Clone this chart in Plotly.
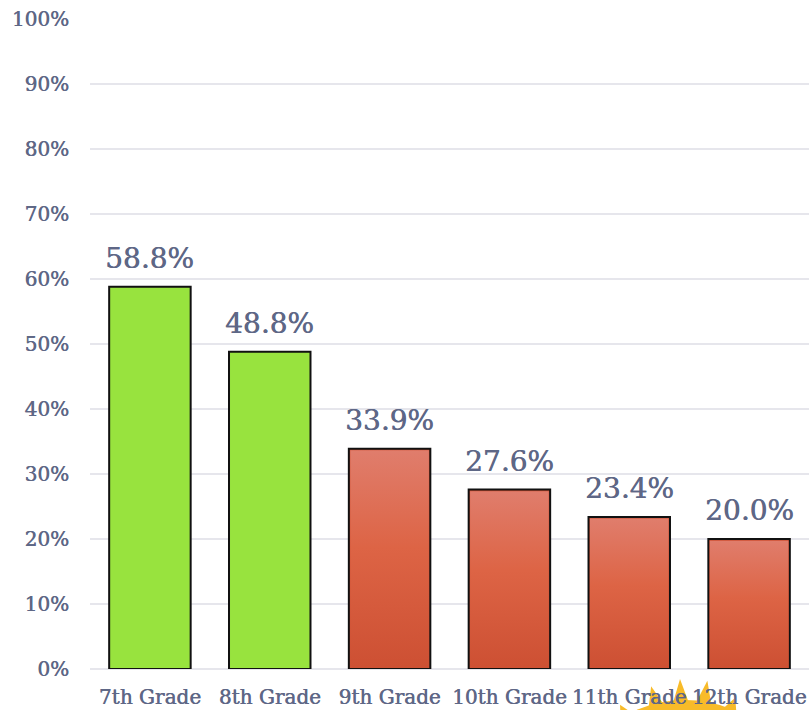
import math
import plotly.graph_objects as go

# Share of students by grade
grades = ["7th Grade", "8th Grade", "9th Grade", "10th Grade", "11th Grade", "12th Grade"]
shares = [58.8, 48.8, 33.9, 27.6, 23.4, 20.0]
middle_school = [True, True, False, False, False, False]

y_ticks = list(range(0, 101, 10))
y_tick_text = [f"{v}%" for v in y_ticks]

GREEN = "#98E33E"
RED_TOP = "#E07D6C"
RED_BOTTOM = "#CD5033"
TEXT = "#5E6786"
SUN = "#F8BB29"
FONT = "DejaVu Serif"
SHADOW = "0.5px 0px 0px #5E6786"
BAR_WIDTH = 0.68

W, H = 809, 710
M_L, M_R, M_T, M_B = 90, 0, 19, 41
PLOT_W, PLOT_H = W - M_L - M_R, H - M_T - M_B

fig = go.Figure()

# Base bars with outline (green for middle school, red for high school)
fig.add_trace(go.Bar(
    x=list(range(len(grades))),
    y=shares,
    width=BAR_WIDTH,
    marker=dict(
        color=[GREEN if m else RED_BOTTOM for m in middle_school],
        line=dict(color="#111111", width=2),
    ),
    hoverinfo="skip",
    showlegend=False,
))

# Vertical gradient overlay for the high school bars
inset = 0.012
for i, (v, m) in enumerate(zip(shares, middle_school)):
    if m:
        continue
    x0, x1 = i - BAR_WIDTH / 2 + inset, i + BAR_WIDTH / 2 - inset
    y0, y1 = 0.25, v - 0.25
    fig.add_trace(go.Scatter(
        x=[x0, x1, x1, x0, x0],
        y=[y0, y0, y1, y1, y0],
        mode="lines",
        line=dict(width=0),
        fill="toself",
        fillgradient=dict(type="vertical",
                          colorscale=[[0, RED_BOTTOM], [0.55, "#DD6445"], [1, RED_TOP]]),
        hoverinfo="skip",
        showlegend=False,
    ))

# Value labels above each bar
for i, v in enumerate(shares):
    fig.add_annotation(
        x=i, y=v, text=f"{v:.1f}%", showarrow=False,
        yanchor="bottom", yshift=10,
        font=dict(family=FONT, size=28, color=TEXT, shadow=SHADOW),
    )


# Decorative sun peeking up behind the category labels (pixel layout -> paper coords)
def px(x):
    return (x - M_L) / PLOT_W


def py(y):
    return (H - M_B - y) / PLOT_H


sun_x, sun_y, sun_r = 685, 822, 122
fig.add_shape(type="circle", xref="paper", yref="paper",
              x0=px(sun_x - sun_r), x1=px(sun_x + sun_r),
              y0=py(sun_y + sun_r), y1=py(sun_y - sun_r),
              fillcolor=SUN, line=dict(width=0), layer="below")
for ang_deg, tip_r in [(-29, 134), (-14, 140), (-2, 143), (9, 143), (22, 134)]:
    a = math.radians(ang_deg)
    ux, uy = math.sin(a), -math.cos(a)
    nx, ny = -uy, ux
    base_r, half = sun_r - 6, 9
    tip = (sun_x + ux * tip_r, sun_y + uy * tip_r)
    b1 = (sun_x + ux * base_r + nx * half, sun_y + uy * base_r + ny * half)
    b2 = (sun_x + ux * base_r - nx * half, sun_y + uy * base_r - ny * half)
    path = (f"M {px(b1[0])} {py(b1[1])} L {px(tip[0])} {py(tip[1])} "
            f"L {px(b2[0])} {py(b2[1])} Z")
    fig.add_shape(type="path", xref="paper", yref="paper", path=path,
                  fillcolor=SUN, line=dict(width=0), layer="below")

fig.update_layout(
    width=W, height=H,
    margin=dict(l=M_L, r=M_R, t=M_T, b=M_B),
    paper_bgcolor="white",
    plot_bgcolor="white",
    bargap=1 - BAR_WIDTH,
    font=dict(family=FONT, color=TEXT, size=20),
    xaxis=dict(
        tickmode="array",
        tickvals=list(range(len(grades))),
        ticktext=grades,
        range=[-0.5, len(grades) - 0.5],
        showgrid=False,
        showline=False,
        zeroline=False,
        ticks="",
        ticklabelstandoff=14,
        tickfont=dict(family=FONT, size=20, color=TEXT, shadow=SHADOW),
    ),
    yaxis=dict(
        range=[0, 100],
        tickmode="array",
        tickvals=y_ticks,
        ticktext=y_tick_text,
        showgrid=True,
        gridcolor="#E6E6EC",
        gridwidth=2,
        zeroline=True,
        zerolinecolor="#E6E6EC",
        zerolinewidth=2,
        ticks="",
        ticklabelstandoff=20,
        tickfont=dict(family=FONT, size=20, color=TEXT, shadow=SHADOW),
    ),
)

fig.write_html("out.html")
